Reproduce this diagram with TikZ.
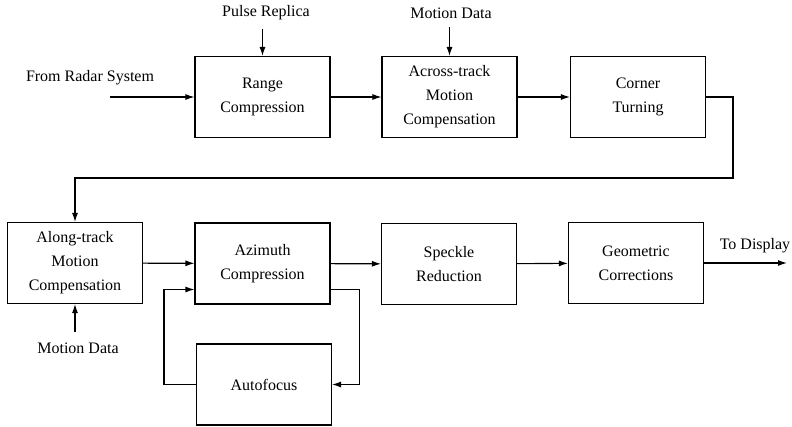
\documentclass[tikz,border=0pt]{standalone}
\usepackage{fontspec}
\setmainfont{Liberation Serif}
\usepackage{tikz}
\usetikzlibrary{arrows.meta}

\begin{document}
\begin{tikzpicture}[x=1pt, y=-1pt, line width=1.1pt,
    block/.style={draw, minimum width=135pt, minimum height=81pt, align=center,
        font=\fontsize{16}{24}\selectfont, inner sep=0pt},
    lbl/.style={font=\fontsize{16}{24}\selectfont, inner sep=2pt},
    flow/.style={-{Latex[length=9pt,width=6pt]}}]
    \useasboundingbox (0,0) rectangle (792,426);
    % top row
    \node[block] (range) at (262.5,97) {Range\\Compression};
    \node[block] (across) at (449.5,97) {Across-track\\Motion\\Compensation};
    \node[block] (corner) at (638,97) {Corner\\Turning};
    % bottom row
    \node[block] (along) at (75,263) {Along-track\\Motion\\Compensation};
    \node[block] (azimuth) at (262.5,263.5) {Azimuth\\Compression};
    \node[block] (speckle) at (449,264) {Speckle\\Reduction};
    \node[block] (geometric) at (636,263) {Geometric\\Corrections};
    \node[block] (autofocus) at (264,384.5) {Autofocus};
    % inputs and outputs
    \node[lbl] (radarlbl) at (90,78) {From Radar System};
    \node[lbl] (pulse) at (266,13) {Pulse Replica};
    \node[lbl] (motiontop) at (451,13) {Motion Data};
    \node[lbl] (motionbot) at (78,348) {Motion Data};
    \node[lbl] (displaylbl) at (755,246) {To Display};
    \coordinate (radar) at (110,97);
    \coordinate (display) at (787,263);
    \coordinate (turn) at (733,178);
    % connectors
    \draw[flow] (radar) -- (range);
    \draw[flow, shorten <=6pt] (pulse.south -| range.north) -- (range.north);
    \draw[flow, shorten <=6pt] (motiontop.south -| across.north) -- (across.north);
    \draw[flow] (range) -- (across);
    \draw[flow] (across) -- (corner);
    \draw[flow] (corner.east) -| (turn) -| (along.north);
    \draw[flow, shorten <=8pt] (motionbot.north -| along.south) -- (along.south);
    \draw[flow] (along) -- (azimuth);
    \draw[flow] (azimuth) -- (speckle);
    \draw[flow] (speckle) -- (geometric);
    \draw[flow] (geometric) -- (display);
    % autofocus loop
    \draw[flow] ([yshift=-26pt]azimuth.east) -- ++(29pt,0) |- (autofocus.east);
    \draw[flow] (autofocus.west) -- ++(-32pt,0) |- ([yshift=-26pt]azimuth.west);
\end{tikzpicture}
\end{document}
